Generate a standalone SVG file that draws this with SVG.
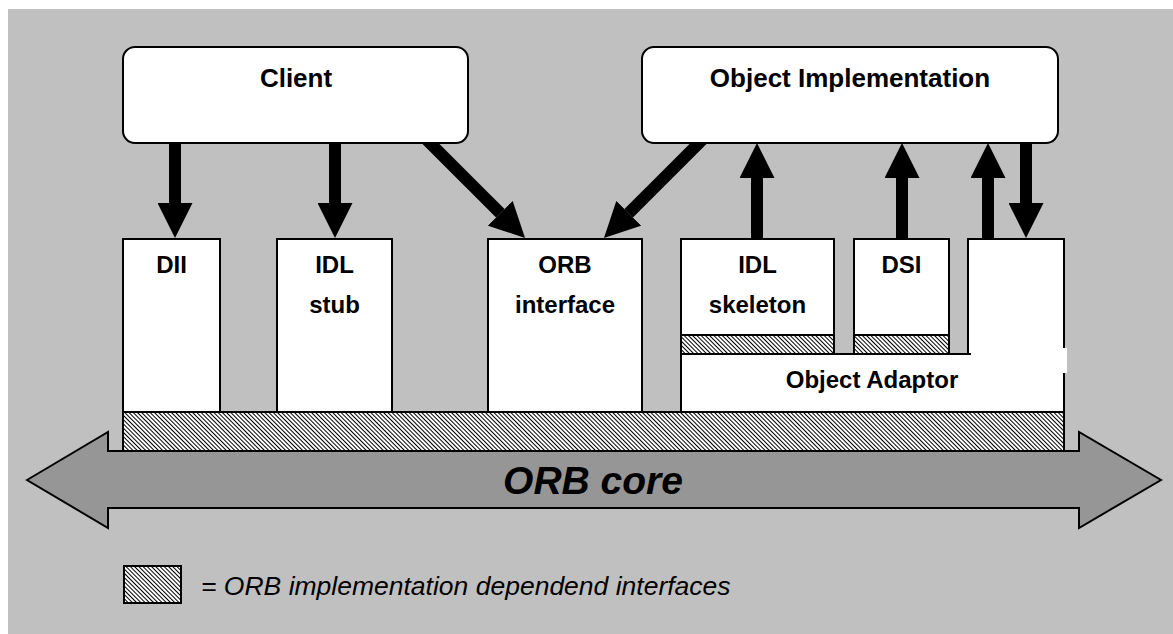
<svg xmlns="http://www.w3.org/2000/svg" width="1173" height="634" viewBox="0 0 1173 634">
<style>
.box{fill:#fff;stroke:#000;stroke-width:2}
.hat{fill:url(#hatch);stroke:#000;stroke-width:2}
.lbl{font-family:"Liberation Sans",Arial,sans-serif;font-weight:bold;font-size:24px;text-anchor:middle;fill:#000}
.big{font-size:26px}
.conn{stroke:#000;stroke-width:12;fill:none}
</style>
<defs>
<pattern id="hatch" patternUnits="userSpaceOnUse" width="3" height="3" patternTransform="rotate(-45)">
<rect width="3" height="3" fill="#fff"/>
<line x1="0.5" y1="0" x2="0.5" y2="3" stroke="#000" stroke-width="1"/>
</pattern>
<marker id="ah" viewBox="0 0 35 35" markerWidth="35" markerHeight="35" refX="0" refY="17.5" orient="auto" markerUnits="userSpaceOnUse">
<path d="M0,0 L35,17.5 L0,35 Z" fill="#000"/>
</marker>
</defs>
<rect x="8" y="9" width="1165" height="625" fill="#c0c0c0"/>

<g id="connectors">
<line class="conn" x1="175" y1="140" x2="175" y2="203" marker-end="url(#ah)"/>
<line class="conn" x1="335" y1="140" x2="335" y2="203" marker-end="url(#ah)"/>
<line class="conn" x1="424" y1="137" x2="500.3" y2="213.3" marker-end="url(#ah)"/>
<line class="conn" x1="705" y1="137" x2="628.7" y2="213.3" marker-end="url(#ah)"/>
<line class="conn" x1="757" y1="242" x2="757" y2="178" marker-end="url(#ah)"/>
<line class="conn" x1="902" y1="242" x2="902" y2="178" marker-end="url(#ah)"/>
<line class="conn" x1="988" y1="242" x2="988" y2="178" marker-end="url(#ah)"/>
<line class="conn" x1="1026" y1="140" x2="1026" y2="203" marker-end="url(#ah)"/>
</g>

<g id="client">
<rect class="box" x="123" y="47" width="345" height="96" rx="12"/>
<text class="lbl big" x="296" y="87">Client</text>
</g>
<g id="object-implementation">
<rect class="box" x="642" y="47" width="416" height="96" rx="12"/>
<text class="lbl big" x="850" y="87">Object Implementation</text>
</g>

<g id="dii">
<rect class="box" x="123" y="239" width="97" height="173"/>
<text class="lbl" x="171.5" y="273">DII</text>
</g>
<g id="idl-stub">
<rect class="box" x="277" y="239" width="115" height="173"/>
<text class="lbl" x="334.5" y="273">IDL</text>
<text class="lbl" x="334.5" y="313">stub</text>
</g>
<g id="orb-interface">
<rect class="box" x="488" y="239" width="154" height="173"/>
<text class="lbl" x="565" y="273">ORB</text>
<text class="lbl" x="565" y="313">interface</text>
</g>
<g id="idl-skeleton">
<rect class="box" x="681" y="239" width="153" height="96"/>
<rect class="hat" x="681" y="335" width="153" height="19"/>
<text class="lbl" x="757.5" y="273">IDL</text>
<text class="lbl" x="757.5" y="313">skeleton</text>
</g>
<g id="dsi">
<rect class="box" x="854" y="239" width="95" height="96"/>
<rect class="hat" x="854" y="335" width="95" height="19"/>
<text class="lbl" x="901.5" y="273">DSI</text>
</g>
<g id="object-adaptor">
<path class="box" d="M968,239 L1064,239 L1064,412 L681,412 L681,354 L971,354 L968,354 Z"/>
<rect x="1060" y="348" width="7" height="25" fill="#fff"/>
<text class="lbl" x="872" y="388">Object Adaptor</text>
</g>

<g id="orb-core">
<rect class="hat" x="123" y="412" width="941" height="39"/>
<path d="M27,480 L108,432 L108,451 L1079,451 L1079,432 L1161,480 L1079,528 L1079,508 L108,508 L108,528 Z" fill="#969696" stroke="#000" stroke-width="2" stroke-linejoin="miter"/>
<text class="lbl" x="593" y="494" style="font-size:39px;font-style:italic">ORB core</text>
</g>

<g id="legend">
<rect class="hat" x="124" y="566" width="57" height="37"/>
<text x="201" y="595" style="font-family:'Liberation Sans',Arial,sans-serif;font-style:italic;font-size:26.5px;fill:#000">= ORB implementation dependend interfaces</text>
</g>
</svg>
